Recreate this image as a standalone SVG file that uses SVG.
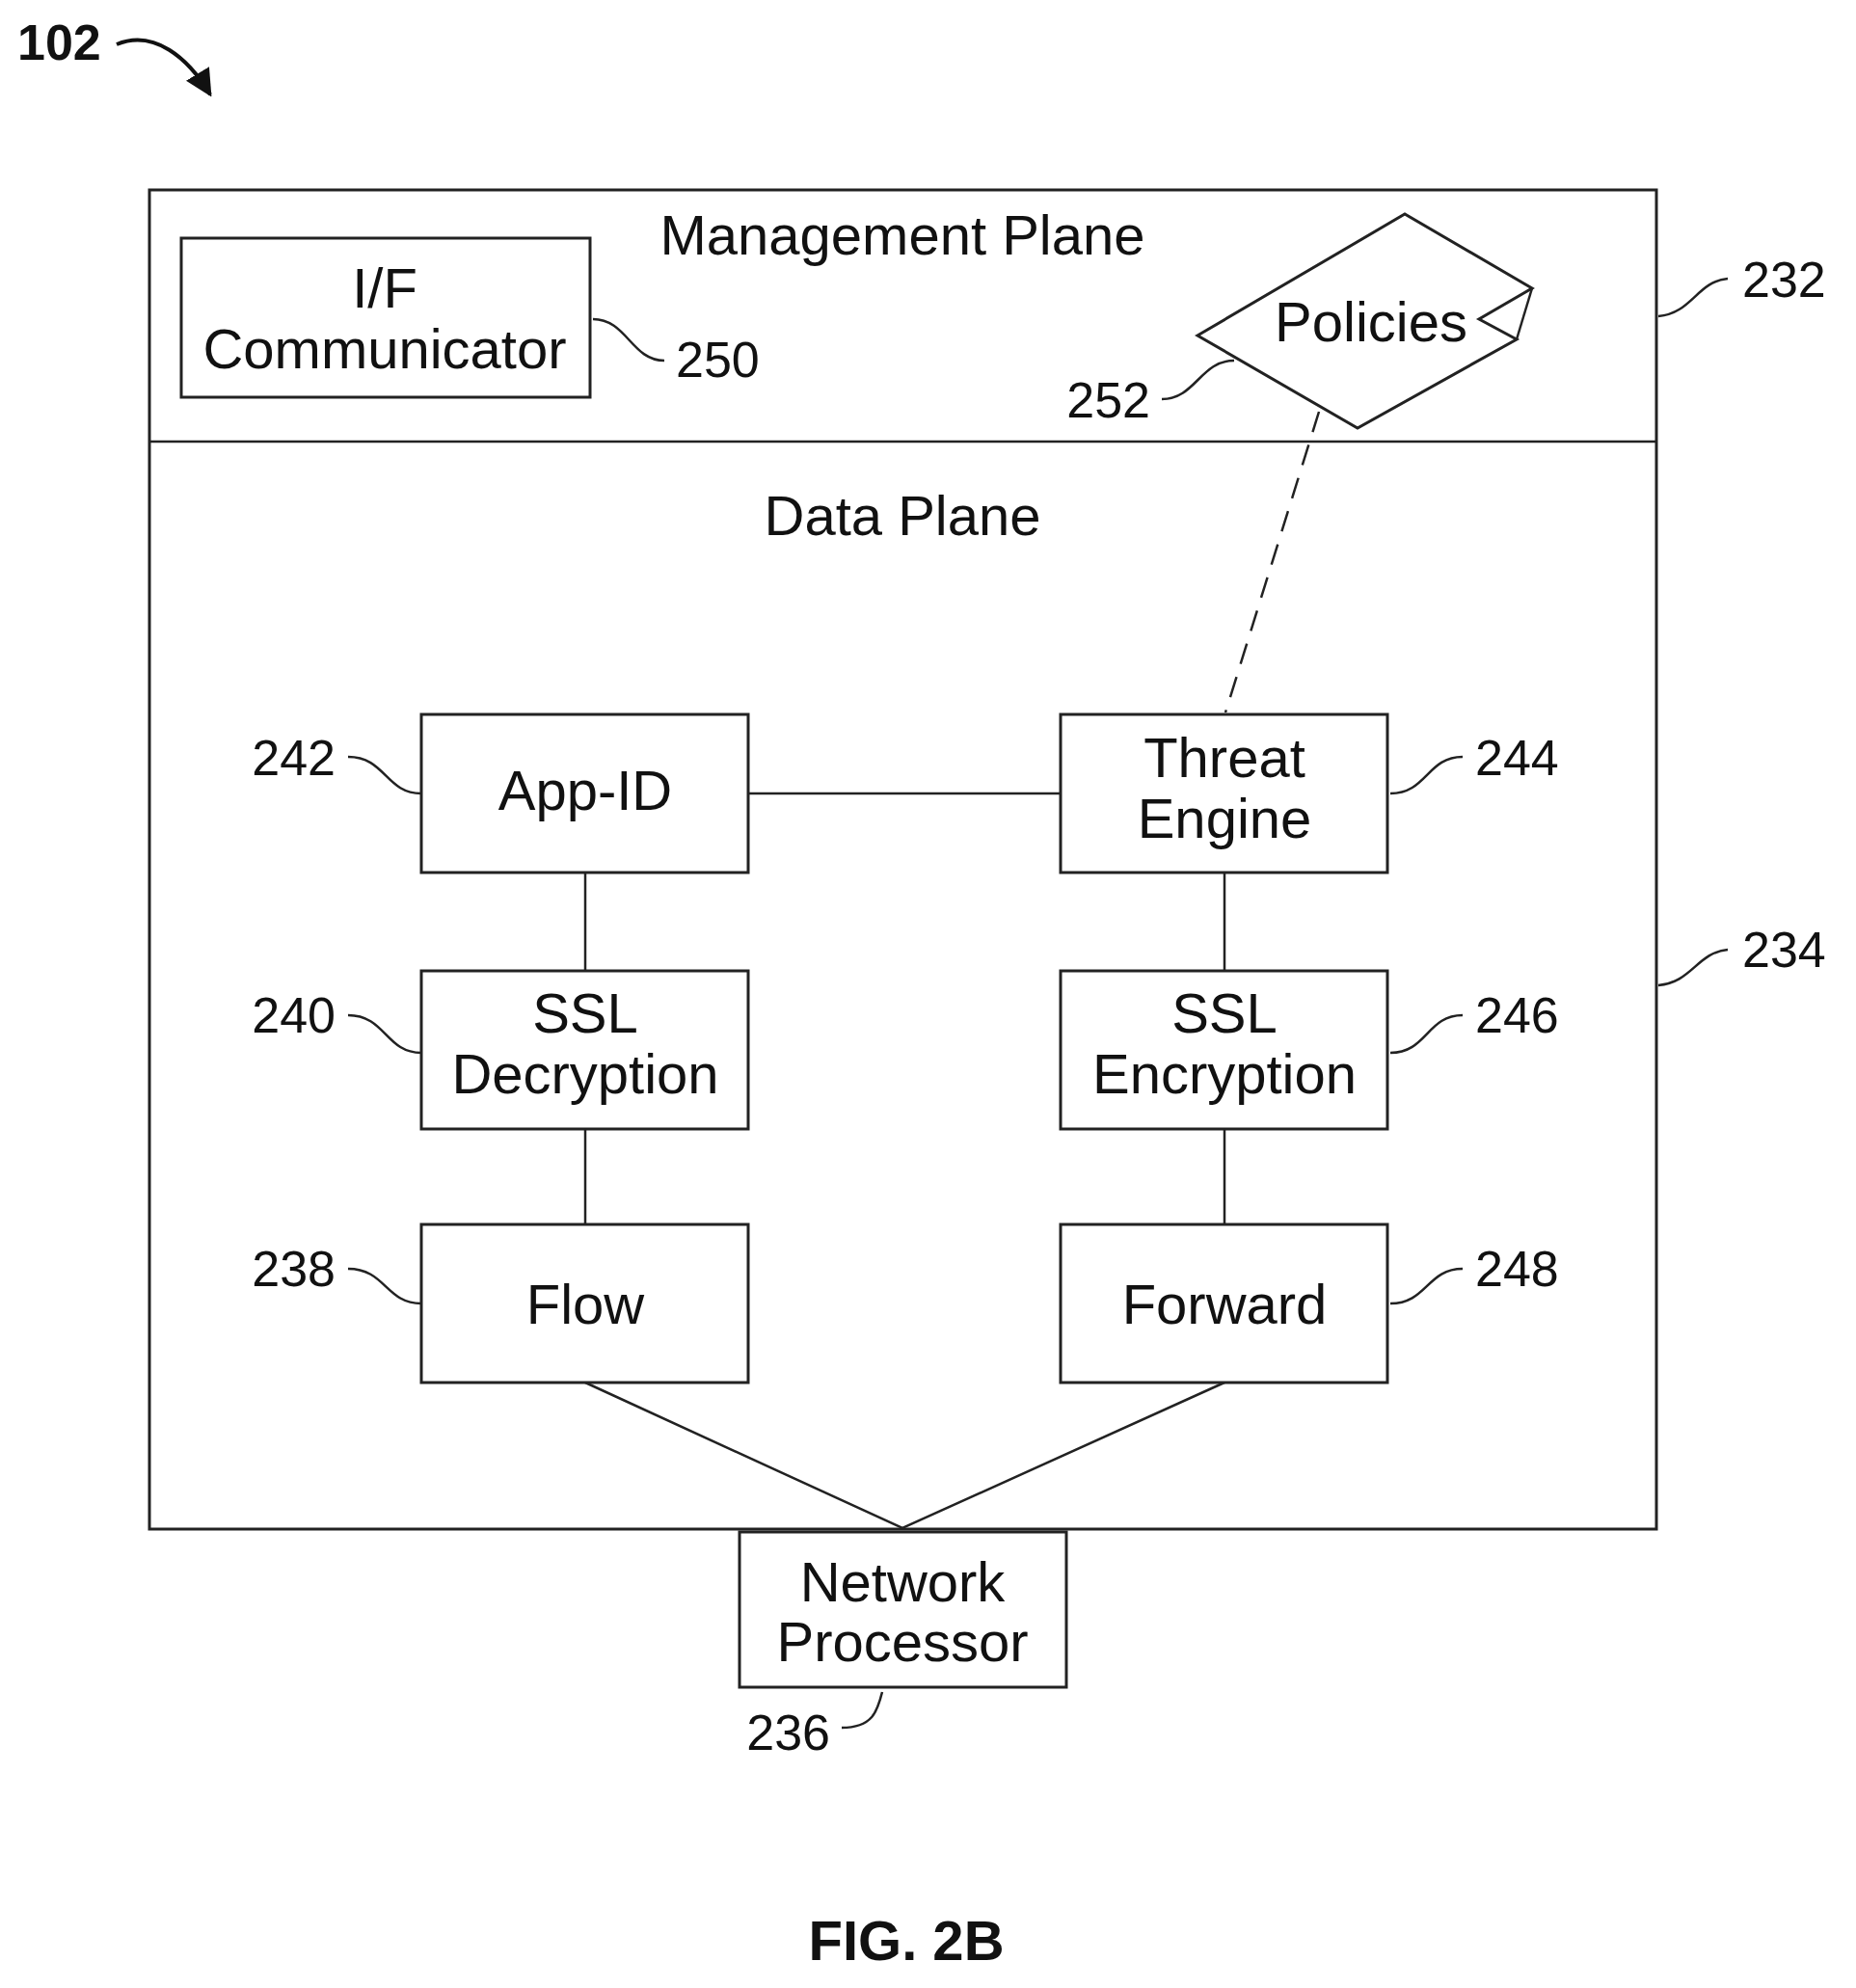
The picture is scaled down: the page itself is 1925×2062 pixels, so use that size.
<svg xmlns="http://www.w3.org/2000/svg" width="1925" height="2062" viewBox="0 0 1925 2062">
<style>
.b{fill:#fff;stroke:#222;stroke-width:3}
.l{fill:none;stroke:#222;stroke-width:2.5}
.t{font-family:"Liberation Sans",Arial,sans-serif;font-size:58px;fill:#111;text-anchor:middle}
.n{font-family:"Liberation Sans",Arial,sans-serif;font-size:52px;fill:#111}
.e{text-anchor:end}
</style>
<defs><marker id="ah" viewBox="0 0 10 10" refX="9" refY="5" markerWidth="7" markerHeight="7" orient="auto"><path d="M0,0L10,5L0,10z" fill="#111"/></marker></defs>
<rect width="1925" height="2062" fill="#fff"/>
<g id="device"><rect class="b" x="155" y="197" width="1563" height="1389"/><line class="l" x1="155" y1="458" x2="1718" y2="458"/>
<text class="t" x="936" y="264">Management Plane</text><text class="t" x="936" y="555">Data Plane</text></g>
<g id="connectors">
<line class="l" stroke-dasharray="22,14" x1="1368" y1="427" x2="1271" y2="739"/>
<line class="l" x1="776" y1="823" x2="1100" y2="823"/>
<line class="l" x1="607" y1="905" x2="607" y2="1007"/><line class="l" x1="607" y1="1171" x2="607" y2="1270"/>
<line class="l" x1="1270" y1="905" x2="1270" y2="1007"/><line class="l" x1="1270" y1="1171" x2="1270" y2="1270"/>
<polyline class="l" points="607,1434 936,1585 1270,1434"/>
<path class="l" d="M1720,328 C1755,325 1760,292 1792,289"/>
<path class="l" d="M1720,1022 C1755,1019 1760,988 1792,985"/>
<path class="l" d="M615,331 C650,331 655,374 689,374"/>
<path class="l" d="M1205,414 C1240,414 1245,374 1280,374"/>
<path class="l" d="M361,785 C400,785 400,823 437,823"/>
<path class="l" d="M361,1053 C400,1053 400,1092 437,1092"/>
<path class="l" d="M361,1316 C400,1316 400,1352 437,1352"/>
<path class="l" d="M1442,823 C1480,823 1480,785 1517,785"/>
<path class="l" d="M1442,1092 C1480,1092 1480,1053 1517,1053"/>
<path class="l" d="M1442,1352 C1480,1352 1480,1316 1517,1316"/>
<path class="l" d="M873,1792 C905,1792 910,1775 915,1755"/>
<path fill="none" stroke="#111" stroke-width="4" d="M121,46 C160,30 195,60 218,98" marker-end="url(#ah)"/>
</g>
<g id="if"><rect class="b" x="188" y="247" width="424" height="165"/><text class="t" x="399" y="319">I/F</text><text class="t" x="399" y="382">Communicator</text></g>
<g id="policies"><polygon class="b" points="1242,348 1457,222 1589,299 1534,331 1573,352 1408,444"/><polyline class="l" points="1589,299 1573,352"/><text class="t" x="1422" y="354">Policies</text></g>
<g id="appid"><rect class="b" x="437" y="741" width="339" height="164"/><text class="t" x="607" y="840">App-ID</text></g>
<g id="threat"><rect class="b" x="1100" y="741" width="339" height="164"/><text class="t" x="1270" y="806">Threat</text><text class="t" x="1270" y="869">Engine</text></g>
<g id="ssldec"><rect class="b" x="437" y="1007" width="339" height="164"/><text class="t" x="607" y="1071">SSL</text><text class="t" x="607" y="1134">Decryption</text></g>
<g id="sslenc"><rect class="b" x="1100" y="1007" width="339" height="164"/><text class="t" x="1270" y="1071">SSL</text><text class="t" x="1270" y="1134">Encryption</text></g>
<g id="flow"><rect class="b" x="437" y="1270" width="339" height="164"/><text class="t" x="607" y="1373">Flow</text></g>
<g id="forward"><rect class="b" x="1100" y="1270" width="339" height="164"/><text class="t" x="1270" y="1373">Forward</text></g>
<g id="np"><rect class="b" x="767" y="1589" width="339" height="161"/><text class="t" x="936" y="1661">Network</text><text class="t" x="936" y="1723">Processor</text></g>
<g id="labels">
<text class="n" x="1807" y="308">232</text><text class="n" x="1807" y="1003">234</text>
<text class="n" x="701" y="391">250</text><text class="n e" x="1193" y="433">252</text>
<text class="n e" x="348" y="804">242</text><text class="n e" x="348" y="1071">240</text><text class="n e" x="348" y="1334">238</text>
<text class="n" x="1530" y="804">244</text><text class="n" x="1530" y="1071">246</text><text class="n" x="1530" y="1334">248</text>
<text class="n e" x="861" y="1815">236</text>
<text class="n" x="18" y="62" style="font-weight:bold">102</text>
<text class="t" x="940" y="2033" style="font-weight:bold">FIG. 2B</text>
</g>
</svg>
